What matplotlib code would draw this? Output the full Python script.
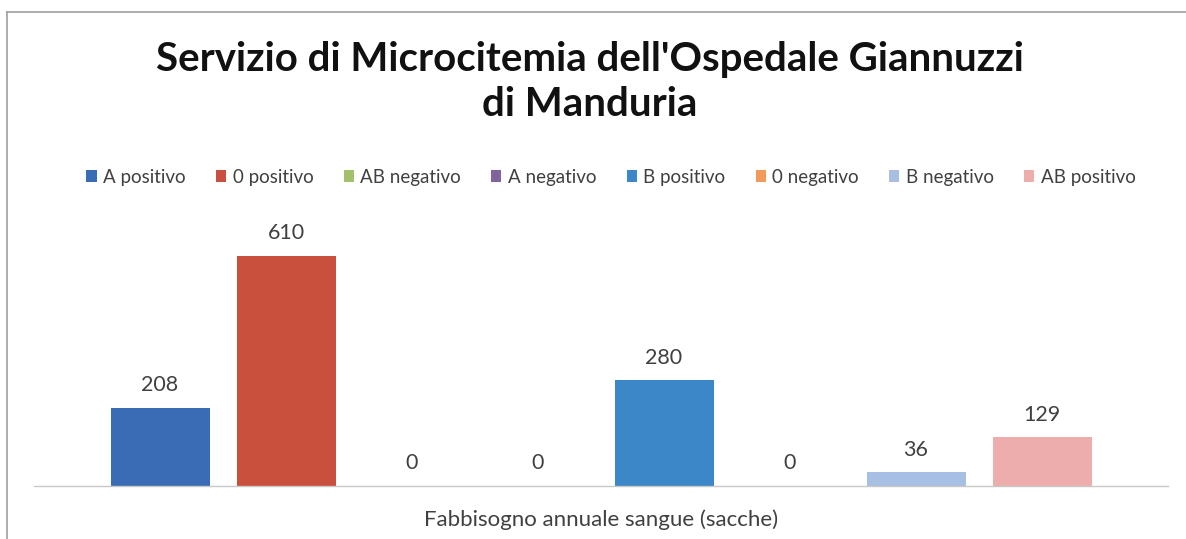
import matplotlib
matplotlib.use("Agg")
import matplotlib.pyplot as plt
from matplotlib.patches import Patch
from matplotlib.lines import Line2D

series = ["A positivo", "0 positivo", "AB negativo", "A negativo",
          "B positivo", "0 negativo", "B negativo", "AB positivo"]
values = [208, 610, 0, 0, 280, 0, 36, 129]
colors = ["#3A6BB5", "#C9503C", "#A3C06B", "#7F649F",
          "#3C87C7", "#F29A5C", "#A6BFE2", "#EDADAD"]
category = "Fabbisogno annuale sangue (sacche)"
title = "Servizio di Microcitemia dell'Ospedale Giannuzzi\ndi Manduria"

FONT = "Lato"
W, H = 1186, 539
fig = plt.figure(figsize=(W / 100, H / 100), dpi=100)
fig.patch.set_facecolor("white")

left, right, bottom, top = 34, 1168, 539 - 486, 539 - 222
ax = fig.add_axes([left / W, bottom / H, (right - left) / W, (top - bottom) / H])
ax.set_ylim(0, 700)
ax.set_xlim(-0.5, 0.5)

n = len(series)
pitch = 126 / (right - left)
width = 99 / (right - left)
for i, (s, v, c) in enumerate(zip(series, values, colors)):
    x = (i - (n - 1) / 2) * pitch
    ax.bar(x, v, width=width, color=c, label=s)
    ax.text(x, v + 60, f"{v}", ha="center", va="center", fontsize=15.5,
            color="#404040", family=FONT)

for sp in ["top", "right", "left"]:
    ax.spines[sp].set_visible(False)
ax.spines["bottom"].set_color("#C8C8C8")
ax.spines["bottom"].set_linewidth(1.0)
ax.set_yticks([])
ax.set_xticks([])
ax.set_facecolor("none")

fig.text(601 / W, 1 - 520 / H, category, ha="center", va="center",
         fontsize=16, color="#404040", family=FONT)

fig.text(590 / W, 1 - 82 / H, title, ha="center", va="center",
         fontsize=29, fontweight="bold", color="#111111", family=FONT,
         linespacing=1.3)

handles = [Patch(facecolor=c, edgecolor="none") for c in colors]
leg = fig.legend(handles, series, loc="center", bbox_to_anchor=(611 / W, 1 - 177 / H),
                 ncol=8, frameon=False, handlelength=0.55,
                 handleheight=0.55, handletextpad=0.35, columnspacing=1.6,
                 prop={"family": FONT, "size": 13.5})
for t in leg.get_texts():
    t.set_color("#404040")

fig.add_artist(Line2D([7 / W, 1.0], [1 - 12 / H, 1 - 12 / H], color="#A0A0A0", lw=1.2))
fig.add_artist(Line2D([7 / W, 7 / W], [0, 1 - 12 / H], color="#A0A0A0", lw=1.2))

fig.savefig("out.png", dpi=100, facecolor="white")
